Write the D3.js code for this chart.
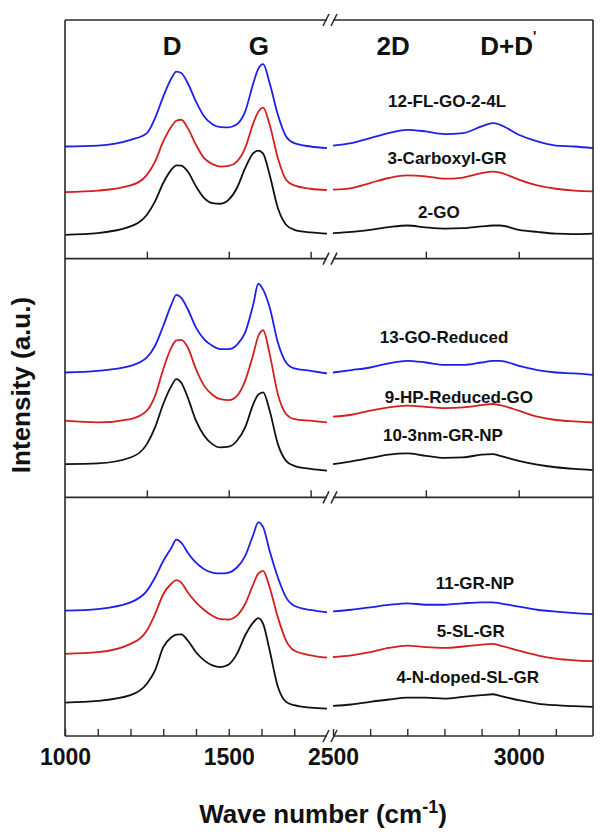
<!DOCTYPE html>
<html lang="en">
<head>
  <meta charset="UTF-8" />
  <title>Raman spectra</title>
  <script src="https://d3js.org/d3.v7.min.js"></script>
  <style>
    html, body { margin: 0; padding: 0; background: #fff; }
    svg { display: block; font-family: 'Liberation Sans', Arial, sans-serif; font-weight: bold; }
    .frame { stroke: #2a2a2a; stroke-width: 1.6; fill: none; }
    .spec { fill: none; stroke-width: 1.8; stroke-linejoin: round; }
    .tick line { stroke: #2a2a2a; stroke-width: 1.4; }
    .tick text { font-size: 23px; fill: #111; }
    .sample { font-size: 17px; fill: #111; }
    .peak { font-size: 26px; fill: #111; }
    .title { font-size: 26px; fill: #111; }
  </style>
</head>
<body>
  <div id="chart"></div>
  <script>
    // wave numbers of the two axis segments (cm-1)
    const waveLeft = [1000, 1100, 1200, 1250, 1275, 1300, 1325, 1340, 1355, 1375, 1400, 1425, 1450,
                      1475, 1500, 1525, 1550, 1575, 1590, 1605, 1625, 1650, 1675, 1700, 1750, 1800];
    const waveRight = [2500, 2550, 2600, 2650, 2700, 2750, 2800, 2850, 2900, 2930, 2950, 3000,
                       3050, 3100, 3150, 3200];

    // intensity (a.u.), each panel runs 0..100
    const fl_go_left = [47.0, 47.4, 49.8, 52.6, 58.9, 67.9, 75.6, 78.4, 77.8, 73.5, 65.8, 59.6, 56.3,
                        55.1, 55.0, 56.3, 61.6, 73.5, 79.5, 81.5, 73.5, 60.3, 51.2, 48.4, 47.0, 46.3];
    const fl_go_right = [47.4, 48.4, 50.5, 52.6, 54.0, 53.3, 52.2, 52.6, 55.4, 56.8, 56.1, 51.9, 49.1, 47.4, 47.0, 46.3];
    const carboxyl_left = [27.9, 28.5, 30.7, 35.1, 40.7, 49.1, 55.4, 57.8, 58.2, 54.7, 47.7, 42.1, 39.6,
                           38.6, 38.9, 40.7, 46.3, 56.8, 61.5, 63.3, 56.1, 42.1, 33.1, 30.7, 29.3, 28.7];
    const carboxyl_right = [28.9, 29.6, 31.7, 33.8, 34.9, 34.5, 33.5, 34.0, 35.8, 36.5, 36.1, 33.1, 30.7, 29.3, 28.5, 28.2];
    const go_left = [10.0, 10.7, 13.5, 18.4, 24.0, 31.7, 37.3, 39.1, 39.0, 36.5, 30.3, 25.4, 23.3,
                     23.0, 24.7, 29.6, 37.9, 44.2, 45.3, 44.0, 35.1, 21.2, 14.2, 12.1, 11.0, 10.5];
    const go_right = [10.7, 11.2, 12.1, 13.2, 13.9, 13.1, 12.6, 12.8, 13.5, 13.9, 13.9, 12.1, 11.2, 10.5, 10.3, 10.5];

    const go_red_left = [52.3, 53.0, 55.1, 58.6, 63.5, 71.8, 80.9, 84.8, 83.6, 78.8, 71.1, 66.2, 63.5,
                         62.1, 62.1, 63.9, 69.0, 80.9, 89.5, 87.0, 79.5, 64.9, 56.5, 54.0, 53.0, 51.9];
    const go_red_right = [52.3, 53.3, 54.4, 56.1, 57.2, 56.5, 55.5, 55.5, 56.5, 57.2, 57.2, 55.1, 53.3, 52.3, 51.9, 51.3];
    const hp_left = [32.1, 31.4, 32.8, 36.3, 42.5, 53.7, 62.8, 65.8, 66.0, 62.8, 53.7, 46.7, 43.0,
                     41.1, 40.7, 42.5, 48.8, 60.0, 67.5, 70.0, 60.0, 43.2, 34.9, 32.8, 32.1, 31.4];
    const hp_right = [33.8, 34.6, 36.3, 37.7, 38.4, 37.9, 37.4, 37.7, 38.6, 39.1, 38.6, 36.3, 33.8, 32.4, 31.8, 31.4];
    const np3_left = [13.9, 14.2, 16.7, 22.3, 29.3, 39.1, 46.7, 49.5, 48.0, 41.8, 32.1, 25.8, 22.3,
                      20.9, 21.2, 23.7, 29.3, 39.1, 43.0, 44.0, 36.3, 22.3, 15.3, 13.2, 11.9, 11.2];
    const np3_right = [13.9, 15.1, 16.5, 17.9, 18.4, 17.4, 16.5, 16.7, 17.9, 18.1, 17.4, 15.3, 13.7, 12.6, 11.9, 11.4];

    const grnp_left = [52.5, 53.2, 56.0, 60.8, 66.4, 73.3, 78.9, 82.3, 81.0, 76.8, 72.6, 69.9, 68.5,
                       68.1, 68.5, 70.6, 75.4, 84.4, 89.5, 87.5, 77.5, 66.4, 58.1, 54.6, 52.8, 51.8];
    const grnp_right = [52.2, 52.9, 53.9, 54.9, 55.6, 55.0, 55.0, 55.6, 56.0, 56.0, 55.6, 54.2, 52.9, 52.1, 51.5, 51.1];
    const slgr_left = [34.4, 35.1, 38.6, 44.2, 51.1, 59.4, 63.9, 65.3, 64.3, 60.1, 56.0, 52.8, 50.4,
                       49.0, 48.8, 50.4, 55.3, 63.6, 68.0, 69.2, 62.2, 49.7, 40.0, 35.8, 33.8, 32.8];
    const slgr_right = [33.1, 33.8, 35.1, 36.9, 37.9, 37.2, 36.9, 37.5, 38.3, 38.6, 37.9, 35.8, 33.8, 32.4, 31.7, 31.4];
    const ndoped_left = [14.0, 14.7, 17.1, 21.9, 27.5, 37.2, 41.4, 42.5, 42.6, 40.0, 35.1, 31.7, 29.6,
                         28.9, 30.0, 34.4, 42.1, 47.6, 49.4, 47.0, 35.8, 20.6, 14.3, 12.9, 11.9, 11.5];
    const ndoped_right = [12.6, 13.2, 14.3, 15.3, 16.1, 16.1, 15.7, 16.4, 17.1, 17.5, 16.8, 15.0, 13.6, 12.9, 12.5, 12.2];

    const seriesColors = ["#1f1fe8", "#d21f1f", "#111111"];
    const panelSeries = [
      [[fl_go_left, fl_go_right], [carboxyl_left, carboxyl_right], [go_left, go_right]],
      [[go_red_left, go_red_right], [hp_left, hp_right], [np3_left, np3_right]],
      [[grnp_left, grnp_right], [slgr_left, slgr_right], [ndoped_left, ndoped_right]]
    ];

    // sample names with [wave number, intensity] anchor
    const sampleNames = [
      ["12-FL-GO-2-4L", "3-Carboxyl-GR", "2-GO"],
      ["13-GO-Reduced", "9-HP-Reduced-GO", "10-3nm-GR-NP"],
      ["11-GR-NP", "5-SL-GR", "4-N-doped-SL-GR"]
    ];
    const sampleAnchors = [
      [[2807, 65.8], [2807, 42.1], [2785, 19.5]],
      [[2799, 66.9], [2839, 41.8], [2796, 25.8]],
      [[2882, 63.9], [2871, 43.9], [2863, 24.4]]
    ];

    const peakNames = ["D", "G", "2D", "D+D"];
    const peakWaves = [1327, 1592, 2662, 2972];
    const peakLevel = 89.2;

    const upperTicksLeft = [1250, 1500, 1750];
    const upperTicksRight = [2750, 3000];
    const bottomTicksLeft = [1000, 1100, 1200, 1300, 1400, 1500, 1600, 1700];
    const bottomTicksRight = [2500, 2600, 2700, 2800, 2900, 3000, 3100];
    const labeledTicks = [1000, 1500, 2500, 3000];

    const W = 600, H = 838;
    const mLeft = 65, mRight = 593, mTop = 20, mBottom = 736;
    const breakL = 327, breakR = 333;
    const panelH = (mBottom - mTop) / 3;

    const xL = d3.scaleLinear().domain([1000, 1800]).range([mLeft, breakL]);
    const xR = d3.scaleLinear().domain([2500, 3200]).range([breakR, mRight]);

    const svg = d3.select("#chart").append("svg")
      .attr("width", W).attr("height", H);

    panelSeries.forEach((series, p) => {
      const y0 = mTop + p * panelH;
      const y = d3.scaleLinear().domain([0, 100]).range([y0 + panelH, y0]);
      const g = svg.append("g");

      series.forEach((pair, s) => {
        const lineL = d3.line().x((d, i) => xL(waveLeft[i])).y(d => y(d)).curve(d3.curveMonotoneX);
        const lineR = d3.line().x((d, i) => xR(waveRight[i])).y(d => y(d)).curve(d3.curveMonotoneX);
        g.append("path").attr("class", "spec").attr("stroke", seriesColors[s]).attr("d", lineL(pair[0]));
        g.append("path").attr("class", "spec").attr("stroke", seriesColors[s]).attr("d", lineR(pair[1]));
      });

      g.selectAll(".sample")
        .data(sampleNames[p])
        .join("text")
        .attr("class", "sample")
        .attr("x", (d, i) => xR(sampleAnchors[p][i][0]))
        .attr("y", (d, i) => y(sampleAnchors[p][i][1]))
        .attr("text-anchor", "middle")
        .attr("dominant-baseline", "central")
        .text(d => d);

      // ticks along the panel's bottom edge
      const last = p === 2;
      const axL = d3.axisBottom(xL).tickValues(last ? bottomTicksLeft : upperTicksLeft)
        .tickSize(-7).tickPadding(13)
        .tickFormat(d => last && labeledTicks.includes(d) ? d : "");
      const axR = d3.axisBottom(xR).tickValues(last ? bottomTicksRight : upperTicksRight)
        .tickSize(-7).tickPadding(13)
        .tickFormat(d => last && labeledTicks.includes(d) ? d : "");
      [axL, axR].forEach(ax => {
        const a = g.append("g").attr("transform", `translate(0,${y0 + panelH})`).call(ax);
        a.select(".domain").remove();
        a.selectAll("text").attr("fill", "#111").style("font-family", "'Liberation Sans', Arial, sans-serif");
      });

      if (p === 0) {
        const pk = g.selectAll(".peak")
          .data(peakNames)
          .join("text")
          .attr("class", "peak")
          .attr("x", (d, i) => i < 2 ? xL(peakWaves[i]) : xR(peakWaves[i]))
          .attr("y", y(peakLevel))
          .attr("text-anchor", "middle")
          .attr("dominant-baseline", "central")
          .text(d => d);
        pk.filter(d => d === "D+D").append("tspan")
          .attr("dy", -10).attr("font-size", 14).text("'");
      }
    });

    // frame, split at the axis break
    const edges = d3.range(4).map(i => mTop + i * panelH);
    edges.forEach(ey => {
      svg.append("line").attr("class", "frame").attr("x1", mLeft).attr("x2", breakL).attr("y1", ey).attr("y2", ey);
      svg.append("line").attr("class", "frame").attr("x1", breakR).attr("x2", mRight).attr("y1", ey).attr("y2", ey);
      [breakL - 1, breakR + 1].forEach(bx => {
        svg.append("line").attr("class", "frame")
          .attr("x1", bx - 3).attr("y1", ey + 6).attr("x2", bx + 3).attr("y2", ey - 6);
      });
    });
    svg.append("line").attr("class", "frame").attr("x1", mLeft).attr("x2", mLeft).attr("y1", mTop).attr("y2", mBottom);
    svg.append("line").attr("class", "frame").attr("x1", mRight).attr("x2", mRight).attr("y1", mTop).attr("y2", mBottom);

    svg.append("text")
      .attr("class", "title")
      .attr("transform", `translate(21,${(mTop + mBottom) / 2 + 7}) rotate(-90)`)
      .attr("text-anchor", "middle")
      .attr("dominant-baseline", "central")
      .text("Intensity (a.u.)");

    const xt = svg.append("text")
      .attr("class", "title")
      .attr("x", 323).attr("y", 823)
      .attr("text-anchor", "middle")
      .text("Wave number (cm");
    xt.append("tspan").attr("dy", -10).attr("font-size", 18).text("-1");
    xt.append("tspan").attr("dy", 10).text(")");
  </script>
</body>
</html>
